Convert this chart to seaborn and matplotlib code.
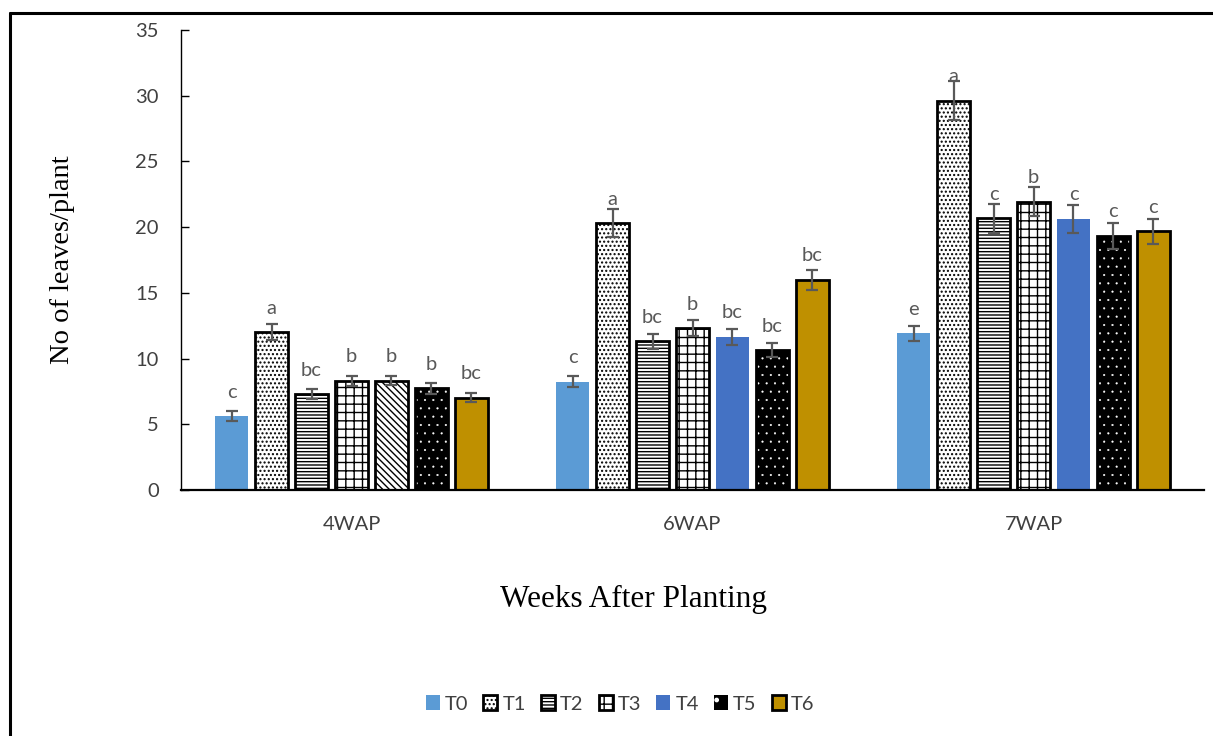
import matplotlib
matplotlib.use("Agg")
import matplotlib.pyplot as plt
import pandas as pd
import seaborn as sns
from matplotlib.patches import Patch, Rectangle
from matplotlib.lines import Line2D

# ---- data -------------------------------------------------------------
weeks = ["4WAP", "6WAP", "7WAP"]
treatments = ["T0", "T1", "T2", "T3", "T4", "T5", "T6"]

mean_4wap = [5.63, 12.0, 7.3, 8.32, 8.32, 7.74, 7.03]
mean_6wap = [8.24, 20.3, 11.3, 12.3, 11.67, 10.65, 15.98]
mean_7wap = [11.92, 29.63, 20.67, 21.94, 20.62, 19.33, 19.68]

err_4wap = [0.35, 0.6, 0.35, 0.38, 0.35, 0.42, 0.34]
err_6wap = [0.4, 1.05, 0.55, 0.6, 0.6, 0.55, 0.76]
err_7wap = [0.57, 1.46, 1.08, 1.1, 1.08, 0.96, 0.94]

letters_4wap = ["c", "a", "bc", "b", "b", "b", "bc"]
letters_6wap = ["c", "a", "bc", "b", "bc", "bc", "bc"]
letters_7wap = ["e", "a", "c", "b", "c", "c", "c"]

means = [mean_4wap, mean_6wap, mean_7wap]
errs = [err_4wap, err_6wap, err_7wap]
letters = [letters_4wap, letters_6wap, letters_7wap]

df = pd.DataFrame(
    [(w, t, means[i][j]) for i, w in enumerate(weeks) for j, t in enumerate(treatments)],
    columns=["week", "treatment", "leaves"],
)

# ---- style ------------------------------------------------------------
sns.set_style("white")
plt.rcParams["font.family"] = ["Lato", "DejaVu Sans"]
plt.rcParams["hatch.linewidth"] = 1.0

# facecolor, edgecolor, hatch per treatment
styles = {
    "T0": dict(fc="#5B9BD5", ec="none", hatch=None),
    "T1": dict(fc="white", ec="black", hatch="...."),
    "T2": dict(fc="white", ec="black", hatch="-----"),
    "T3": dict(fc="white", ec="black", hatch="++"),
    "T4": dict(fc="#4472C4", ec="none", hatch=None),
    "T5": dict(fc="black", ec="white", hatch=".."),
    "T6": dict(fc="#BF9000", ec="black", hatch=None),
}
t4_first_week = dict(fc="white", ec="black", hatch="\\\\\\\\\\")

fig = plt.figure(figsize=(12.13, 7.36), dpi=100)
ax = fig.add_axes([181 / 1213, 1 - 490 / 736, (1204 - 181) / 1213, 460 / 736])

sns.barplot(
    data=df, x="week", y="leaves", hue="treatment", order=weeks,
    hue_order=treatments, width=0.82, gap=0.175, errorbar=None,
    legend=False, ax=ax,
)

text_gray = "#595959"
bar_groups = list(ax.containers)
for hi, cont in enumerate(bar_groups):
    t = treatments[hi]
    for wi, bar in enumerate(cont):
        st = styles[t]
        if t == "T4" and wi == 0:
            st = t4_first_week
        bar.set_facecolor(st["fc"])
        bar.set_edgecolor(st["ec"])
        if st["hatch"]:
            bar.set_hatch(st["hatch"])
        if t == "T5":
            bar.set_linewidth(0)
            if hasattr(bar, "set_hatch_linewidth"):
                bar.set_hatch_linewidth(0.3)
            ax.add_patch(Rectangle(bar.get_xy(), bar.get_width(), bar.get_height(),
                                   fill=False, ec="black", lw=2, zorder=bar.get_zorder() + 0.1))
        elif st["ec"] == "none":
            bar.set_linewidth(0)
        else:
            bar.set_linewidth(2)
        cx = bar.get_x() + bar.get_width() / 2
        h = bar.get_height()
        ax.errorbar(cx, h, yerr=errs[wi][hi], fmt="none", ecolor=text_gray,
                    elinewidth=1.6, capsize=4.5, capthick=1.6, zorder=5)
        ax.annotate(letters[wi][hi], xy=(cx, h), xytext=(0, 24),
                    textcoords="offset pixels", ha="center", va="center",
                    fontsize=14.5, color=text_gray, zorder=6)

ax.set_ylim(0, 35)
ax.set_yticks(range(0, 36, 5))
ax.set_xlim(-0.5, 2.5)

for s in ["top", "right"]:
    ax.spines[s].set_visible(False)
ax.spines["left"].set_color("black")
ax.spines["left"].set_linewidth(1.0)
ax.spines["bottom"].set_color("black")
ax.spines["bottom"].set_linewidth(1.6)

ax.tick_params(axis="y", direction="in", length=6, width=1, color="black",
               pad=16, labelsize=14.5, labelcolor="#404040", left=True)
ax.tick_params(axis="x", length=0, pad=19, labelsize=14.5, labelcolor="#404040")

ax.set_ylabel("No of leaves/plant", fontsize=20.5, family="Liberation Serif", color="black")
ax.set_xlabel("Weeks After Planting", fontsize=22.5, family="Liberation Serif", color="black")
ax.yaxis.set_label_coords(-0.104, 0.5)
ax.xaxis.set_label_coords((633 - 181) / 1023, -0.207)

handles = []
for t in treatments:
    st = styles[t]
    if t == "T5":
        handles.append(Patch(fc="black", ec="white", hatch=".", lw=0, label=t))
    elif st["ec"] == "none":
        handles.append(Patch(fc=st["fc"], ec="none", lw=0, label=t))
    else:
        handles.append(Patch(fc=st["fc"], ec="black", hatch=st["hatch"], lw=2, label=t))

fig.legend(handles=handles, loc="center", bbox_to_anchor=(620 / 1213, 1 - 704 / 736),
           ncol=7, frameon=False, fontsize=14.5, handlelength=0.7, handleheight=0.7,
           handletextpad=0.25, columnspacing=0.75, labelcolor="#404040")

# outer frame (left and top edges)
fig.add_artist(Line2D([9.5 / 1213, 9.5 / 1213], [0, 1 - 12.5 / 736], color="black",
                      lw=2.2, transform=fig.transFigure))
fig.add_artist(Line2D([9.5 / 1213, 1], [1 - 12.5 / 736, 1 - 12.5 / 736], color="black",
                      lw=2.2, transform=fig.transFigure))

fig.savefig("out.png", dpi=100, facecolor="white")
